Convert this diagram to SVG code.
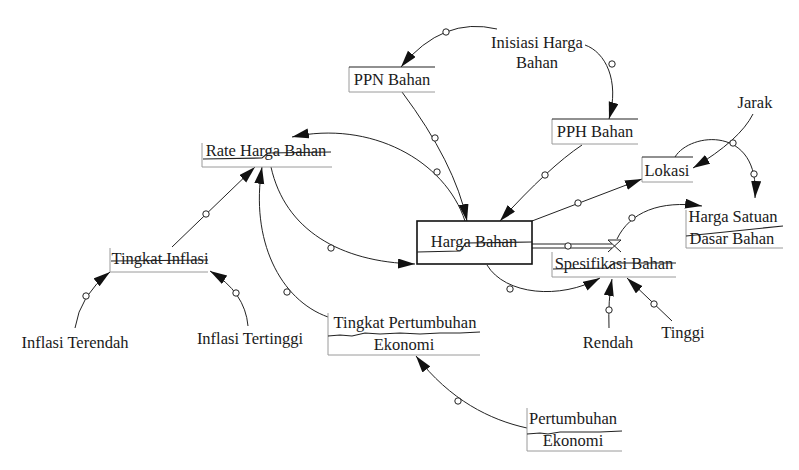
<svg xmlns="http://www.w3.org/2000/svg" width="799" height="470" viewBox="0 0 799 470">
<style>
text{font-family:"Liberation Serif","Times New Roman",serif;font-size:16.5px;fill:#1a1a1a;text-anchor:middle}
.g{stroke:#9a9a9a;stroke-width:1;fill:none}
.d{stroke:#222;stroke-width:1.1;fill:none}
.c{stroke:#222;stroke-width:1;fill:none}
.o{fill:#fff;stroke:#222;stroke-width:1}
</style>
<defs>
<marker id="arr" markerUnits="userSpaceOnUse" markerWidth="20" markerHeight="12" refX="17" refY="5" orient="auto">
<path d="M0,0 L17,5 L0,10 Z" fill="#111"/>
</marker>
</defs>
<rect width="799" height="470" fill="#fff"/>

<g id="connectors">
<path class="c" d="M497,29 Q443,16 401,67" marker-end="url(#arr)"/>
<circle class="o" cx="446" cy="32" r="3.2"/>
<path class="c" d="M585,45 C605,52 620,80 609,119" marker-end="url(#arr)"/>
<circle class="o" cx="612" cy="64" r="3.2"/>
<path class="c" d="M402,92 Q455,163 467,221" marker-end="url(#arr)"/>
<circle class="o" cx="435" cy="138" r="3.2"/>
<path class="c" d="M465,221 C445,160 370,120 292,137" marker-end="url(#arr)"/>
<circle class="o" cx="437" cy="172" r="3.2"/>
<path class="c" d="M271,167 C285,230 340,262 415,264" marker-end="url(#arr)"/>
<circle class="o" cx="331" cy="248" r="3.2"/>
<path class="c" d="M582,145 Q549,167 500,221" marker-end="url(#arr)"/>
<circle class="o" cx="545" cy="175" r="3.2"/>
<path class="c" d="M532,221 L642,179" marker-end="url(#arr)"/>
<circle class="o" cx="578" cy="203" r="3.2"/>
<path class="c" d="M753,114 Q740,140 693,168" marker-end="url(#arr)"/>
<path class="c" d="M675,157 C690,132 760,125 755,198" marker-end="url(#arr)"/>
<circle class="o" cx="733" cy="143" r="3.2"/>
<circle class="o" cx="754" cy="174" r="3.2"/>
<path class="c" d="M617,239 C630,212 660,200 702,206" marker-end="url(#arr)"/>
<circle class="o" cx="632" cy="218" r="3.2"/>
<path class="c" d="M487,265 C505,295 560,300 600,278" marker-end="url(#arr)"/>
<circle class="o" cx="510" cy="289" r="3.2"/>
<path class="c" d="M609,328 Q608,300 612,279" marker-end="url(#arr)"/>
<circle class="o" cx="609" cy="310" r="3.2"/>
<path class="c" d="M672,321 L627,278" marker-end="url(#arr)"/>
<circle class="o" cx="654" cy="304" r="3.2"/>
<path class="c" d="M172,247 L255,167" marker-end="url(#arr)"/>
<circle class="o" cx="206" cy="214" r="3.2"/>
<path class="c" d="M328,317 C280,300 250,240 262,167" marker-end="url(#arr)"/>
<circle class="o" cx="287" cy="292" r="3.2"/>
<path class="c" d="M75,328 Q80,295 110,272" marker-end="url(#arr)"/>
<circle class="o" cx="86" cy="296" r="3.2"/>
<path class="c" d="M248,326 Q245,292 210,271" marker-end="url(#arr)"/>
<circle class="o" cx="236" cy="293" r="3.2"/>
<path class="c" d="M527,428 C490,420 450,400 416,356" marker-end="url(#arr)"/>
<circle class="o" cx="458" cy="401" r="3.2"/>
<path class="c" d="M532,244 H612 M532,248 H612"/>
<circle class="o" cx="568" cy="246" r="3.2"/>
<path class="c" d="M608,240 H621 L608,252 M621,252 L608,240"/>
</g>

<g id="inisiasi">
<text x="537" y="48">Inisiasi Harga</text>
<text x="537" y="68">Bahan</text>
</g>
<g id="ppn">
<path class="g" d="M349,67 V92 H435"/>
<path class="d" d="M349,67 H435"/>
<text x="392" y="85">PPN Bahan</text>
</g>
<g id="pph">
<path class="g" d="M552,119 V144 H638"/>
<path class="d" d="M552,119 H638"/>
<text x="595" y="137">PPH Bahan</text>
</g>
<g id="lokasi">
<path class="g" d="M642,157 V182 H693"/>
<path class="d" d="M642,157 H693"/>
<text x="667" y="176">Lokasi</text>
</g>
<g id="jarak">
<text x="755" y="108">Jarak</text>
</g>
<g id="rate">
<path class="g" d="M202,143 V167 H332"/>
<text x="266" y="156">Rate Harga Bahan</text>
<path class="d" d="M203,159 L262,158 L268,153 L331,152"/>
</g>
<g id="harga-bahan">
<rect x="417" y="221" width="115" height="43" fill="none" stroke="#111" stroke-width="1.6"/>
<text x="474" y="247">Harga Bahan</text>
<path class="d" d="M417,252 L460,251 L466,243 L532,242"/>
</g>
<g id="spesifikasi">
<path class="g" d="M552,252 V277 H676"/>
<text x="614" y="269">Spesifikasi Bahan</text>
<path class="d" d="M553,269 L608,268 L614,263 L676,263"/>
</g>
<g id="harga-satuan">
<path class="g" d="M686,210 V248 H783"/>
<text x="733" y="222">Harga Satuan</text>
<text x="732" y="244">Dasar Bahan</text>
<path class="d" d="M686,236 L783,226"/>
</g>
<g id="tingkat-inflasi">
<path class="g" d="M110,248 V272 H208"/>
<text x="160" y="264">Tingkat Inflasi</text>
<path class="d" d="M111,261 L208,260"/>
</g>
<g id="inflasi-terendah">
<text x="75" y="348">Inflasi Terendah</text>
</g>
<g id="inflasi-tertinggi">
<text x="250" y="344">Inflasi Tertinggi</text>
</g>
<g id="tingkat-pertumbuhan">
<path class="g" d="M328,313 V355 H480"/>
<text x="405" y="328">Tingkat Pertumbuhan</text>
<text x="404" y="350">Ekonomi</text>
<path class="d" d="M328,336 L340,335 L352,336 L365,333 L380,334 L400,333 L420,334 L440,333 L460,333 L480,332"/>
</g>
<g id="pertumbuhan">
<path class="g" d="M527,408 V451 H622"/>
<text x="573" y="424">Pertumbuhan</text>
<text x="573" y="446">Ekonomi</text>
<path class="d" d="M527,434 L540,433 L548,434 L560,432 L580,432 L600,432 L622,431"/>
</g>
<g id="rendah">
<text x="608" y="348">Rendah</text>
</g>
<g id="tinggi">
<text x="683" y="338">Tinggi</text>
</g>
</svg>
